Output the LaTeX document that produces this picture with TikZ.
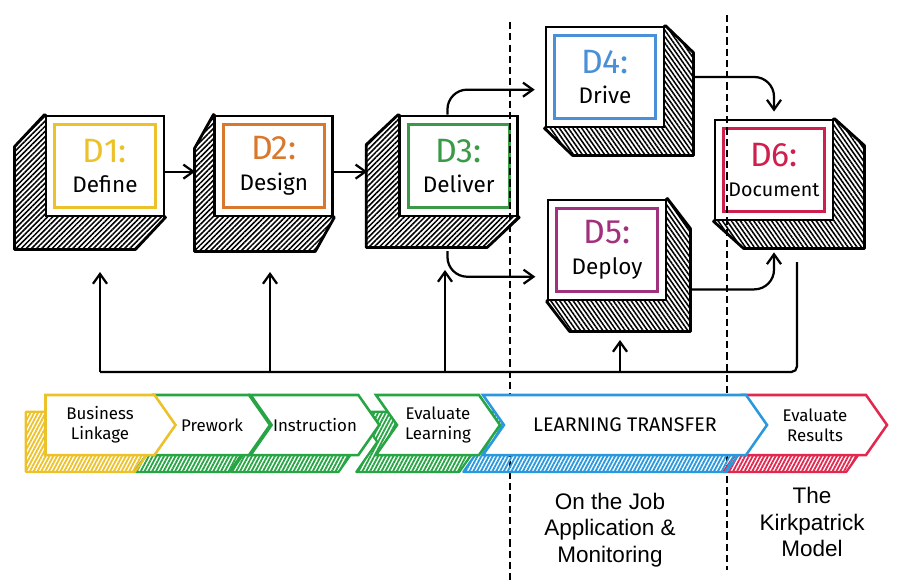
\documentclass[tikz,border=0pt]{standalone}
\usepackage{fontspec}
\setmainfont{Fira Sans}
\newfontfamily\notefont{Liberation Sans}
\usepackage{xcolor}
\usepackage{tikz}
\usetikzlibrary{arrows.meta,positioning,backgrounds,patterns.meta,shapes.symbols}
\definecolor{dyellow}{HTML}{EDC12A}
\definecolor{dorange}{HTML}{D9782D}
\definecolor{dgreen}{HTML}{3A9A47}
\definecolor{dblue}{HTML}{4A90D9}
\definecolor{dpurple}{HTML}{A1307D}
\definecolor{dred}{HTML}{CF1F4D}
\definecolor{cgreen}{HTML}{27A544}
\definecolor{cblue}{HTML}{2A98DC}
\definecolor{cred}{HTML}{E3284F}
\tikzset{
  dbox/.style={
    rectangle, draw=black, line width=2pt, fill=white,
    minimum width=2.95cm, minimum height=2.5cm, align=center,
    font=\fontsize{16}{22}\selectfont,
    path picture={\draw[#1, line width=2.2pt]
      ([shift={(6pt,-6pt)}]path picture bounding box.north west) rectangle
      ([shift={(-6pt,6pt)}]path picture bounding box.south east);}
  },
  boxside/.style={draw=black, line width=2pt, line join=round,
    pattern={Lines[angle=#1, distance=2.6pt, line width=1.1pt]}},
  chev/.style={
    signal, signal to=east, signal from=west, signal pointer angle=110,
    draw=#1, line width=1.8pt, fill=white, minimum height=1.5cm,
    inner sep=1pt, align=center, font=\fontsize{12}{14}\selectfont,
    preaction={draw=#1, line width=1.6pt, line join=round,
      pattern={Lines[angle=62, distance=2.4pt, line width=1.3pt]}, pattern color=#1,
      transform canvas={shift={(-14pt,-12pt)}}}
  },
  flowarrow/.style={-{Straight Barb[length=7pt, width=10pt, line width=1.6pt]},
    line width=1.6pt, color=black, rounded corners=14pt},
  fbline/.style={line width=1.6pt, color=black, rounded corners=4pt},
  sepline/.style={line width=0.8pt, dash pattern=on 5pt off 3pt},
  note/.style={font=\notefont\fontsize{16}{19}\selectfont, align=center},
}
\begin{document}
\begin{tikzpicture}[x=0.025cm, y=-0.025cm]
  \useasboundingbox (0,0) rectangle (905,585);

  \node[dbox=dyellow] (d1) at (105,166) {{\color{dyellow}\fontsize{24}{26}\selectfont D1:}\\Define};
  \node[dbox=dorange, right=1.2cm of d1] (d2) {{\color{dorange}\fontsize{24}{26}\selectfont D2:}\\Design};
  \node[dbox=dgreen, right=1.6cm of d2] (d3) {{\color{dgreen}\fontsize{24}{26}\selectfont D3:}\\Deliver};
  \node[dbox=dblue] (d4) at (605,77) {{\color{dblue}\fontsize{24}{26}\selectfont D4:}\\Drive};
  \node[dbox=dpurple] (d5) at (607,250) {{\color{dpurple}\fontsize{24}{26}\selectfont D5:}\\Deploy};
  \node[dbox=dred] (d6) at (774,170) {{\color{dred}\fontsize{24}{26}\selectfont D6:}\\\fontsize{14}{22}\selectfont Document};

  \begin{scope}[on background layer]
    \foreach \n/\dx/\dy in {d1/-30/32, d2/-19/34, d3/-32/30}
      \draw[boxside=45] (\n.north west) -- ++(\dx,\dy) |- ([shift={(\dx,\dy)}]\n.south east) -- (\n.south east) -- cycle;
    \foreach \n/\dx/\dy in {d4/28/27, d5/23/30, d6/30/27}
      \draw[boxside=-55] (\n.north east) -- ++(\dx,\dy) |- ([shift={(\dx,\dy)}]\n.south west) -- (\n.south west) -- cycle;
  \end{scope}

  \draw[flowarrow] ([yshift=-4pt]d1.east) -- ([shift={(-13pt,-4pt)}]d2.west);
  \draw[flowarrow] ([yshift=-4pt]d2.east) -- ([shift={(-22pt,-4pt)}]d3.west);
  \draw[flowarrow] ([xshift=-8pt]d3.north) |- ([shift={(-7pt,-9pt)}]d4.west);
  \draw[flowarrow] ([shift={(-8pt,-24pt)}]d3.south) |- ([shift={(-8pt,-19pt)}]d5.west);
  \draw[flowarrow] ([xshift=20pt]d4.east) -| ([yshift=5pt]d6.north);
  \draw[flowarrow] ([shift={(17pt,-28pt)}]d5.east) -| ([yshift=-22pt]d6.south);

  \draw[sepline] (510,22) -- (510,580);
  \draw[sepline] (727,15) -- (727,570);

  \coordinate (fbL) at (100,372);
  \coordinate (fbR) at (797,372);
  \coordinate (t1) at (100,272);
  \coordinate (t2) at (270,272);
  \coordinate (t3) at (445,270);
  \coordinate (t5) at (620,340);
  \draw[fbline] (fbL) -- (fbR) -- ++(0,-110);
  \draw[flowarrow] (t1 |- fbL) -- (t1);
  \draw[flowarrow] (t2 |- fbL) -- (t2);
  \draw[flowarrow] (t3 |- fbL) -- (t3);
  \draw[flowarrow] (t5 |- fbL) -- (t5);

  \node[chev=cred, minimum width=3.6cm] (er) at (815,425) {Evaluate\\Results};
  \node[chev=cblue, minimum width=7.1cm, font=\fontsize{14}{16}\selectfont] (lt) at (625,425) {LEARNING TRANSFER};
  \node[chev=cgreen, minimum width=3.1cm] (el) at (438,425) {Evaluate\\Learning};
  \node[chev=cgreen, minimum width=2.85cm] (ins) at (315,425) {Instruction};
  \node[chev=cgreen, minimum width=2.9cm] (pw) at (212,425) {Prework};
  \node[chev=dyellow, signal from=nowhere, minimum width=3.25cm] (bl) at (100,425) {Business\\Linkage};

  \node[note] (ojt) at (610,530) {On the Job\\Application \&\\Monitoring};
  \node[note] (kirk) at (812,522) {The\\Kirkpatrick\\Model};
\end{tikzpicture}
\end{document}
